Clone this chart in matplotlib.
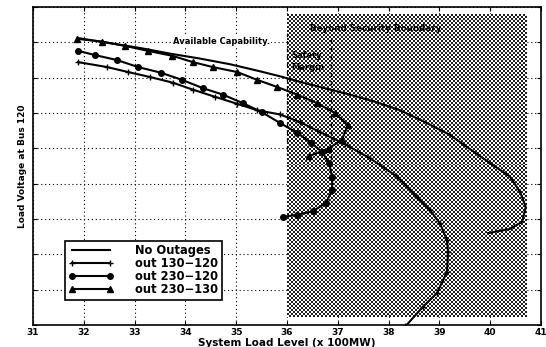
import numpy as np
import matplotlib.pyplot as plt

plt.rcParams['font.family'] = ['DejaVu Sans']
plt.rcParams['font.weight'] = 'bold'

# PV curves: system load (x 100 MW) vs. load voltage at bus 120
no_out_x = [31.89, 32.50, 33.11, 33.70, 34.29, 34.88, 35.47, 35.86, 36.26, 36.75,
            37.24, 37.73, 38.22, 38.72, 39.21, 39.54, 40.00, 40.39, 40.59, 40.70,
            40.63, 40.39, 39.96]
no_out_v = [0.956, 0.949, 0.942, 0.934, 0.927, 0.919, 0.909, 0.902, 0.894, 0.885,
            0.876, 0.866, 0.854, 0.837, 0.819, 0.802, 0.779, 0.760, 0.738, 0.717,
            0.696, 0.686, 0.680]

out_130_120_x = [31.89, 32.46, 32.87, 33.30, 33.75, 34.15, 34.58, 35.02, 35.41, 35.86,
                 36.26, 36.65, 37.14, 37.63, 38.17, 38.56, 38.81, 39.01, 39.15, 39.17,
                 39.15, 38.95, 38.68, 38.33]
out_130_120_v = [0.922, 0.915, 0.908, 0.901, 0.893, 0.883, 0.873, 0.863, 0.854, 0.848,
                 0.837, 0.823, 0.806, 0.786, 0.760, 0.731, 0.713, 0.694, 0.670, 0.653,
                 0.625, 0.595, 0.576, 0.548]

out_230_120_x = [31.89, 32.22, 32.65, 33.07, 33.52, 33.93, 34.35, 34.74, 35.13, 35.51,
                 35.86, 36.20, 36.47, 36.69, 36.83, 36.89, 36.89, 36.77, 36.51, 36.20,
                 35.92]
out_230_120_v = [0.938, 0.932, 0.925, 0.915, 0.907, 0.897, 0.885, 0.876, 0.864, 0.851,
                 0.836, 0.822, 0.808, 0.795, 0.779, 0.759, 0.741, 0.723, 0.711, 0.706,
                 0.703]

out_230_130_x = [31.87, 32.36, 32.81, 33.26, 33.74, 34.15, 34.54, 35.02, 35.41, 35.80,
                 36.20, 36.59, 36.94, 37.20, 37.08, 36.80, 36.43]
out_230_130_v = [0.955, 0.951, 0.945, 0.938, 0.931, 0.922, 0.915, 0.908, 0.897, 0.887,
                 0.876, 0.864, 0.850, 0.833, 0.812, 0.799, 0.789]

x_ticks = [31, 32, 33, 34, 35, 36, 37, 38, 39, 40, 41]
v_ticks = [0.55, 0.60, 0.65, 0.70, 0.75, 0.80, 0.85, 0.90, 0.95, 1.00]

# region beyond the security boundary and the capability markers
boundary_x = (36.0, 40.72)
boundary_v = (0.561, 0.989)
capability_x = 36.87

fig = plt.figure(figsize=(5.46, 3.47), dpi=100)
ax = fig.add_axes([0.0604, 0.0634, 0.9304, 0.9164])

ax.set_xlim(31, 41)
ax.set_ylim(0.55, 1.0)
ax.set_xticks(x_ticks)
ax.set_yticks(v_ticks)
ax.set_yticklabels([])
ax.tick_params(direction='in', top=True, right=True, length=3, width=0.8,
               labelsize=6.5, pad=2)
for lab in ax.get_xticklabels():
    lab.set_fontweight('bold')
ax.grid(True, linestyle=(0, (1, 2.5)), color='black', linewidth=0.8)
ax.set_axisbelow(True)
for sp in ax.spines.values():
    sp.set_linewidth(1.2)

# stippled shading, one cell per pixel pair
ny, nx = 152, 120
ii, jj = np.mgrid[0:ny, 0:nx]
checker = np.where((ii + jj) % 2 == 0, 0.12, 1.0)
ax.imshow(checker, cmap='gray', vmin=0, vmax=1, interpolation='nearest',
          extent=[boundary_x[0], boundary_x[1], boundary_v[0], boundary_v[1]],
          aspect='auto', zorder=1)

# safety margin brackets
ax.plot([boundary_x[0], boundary_x[0]], [0.963, 0.790], color='black',
        linestyle=(0, (3, 3)), linewidth=0.9, zorder=3)
ax.plot([capability_x, capability_x], [0.955, 0.776], color='black',
        linestyle=(0, (3, 3)), linewidth=1.0, zorder=3)

lw = 1.5
ax.plot(no_out_x, no_out_v, color='black', linewidth=lw, zorder=4,
        label='No Outages')
ax.plot(out_130_120_x, out_130_120_v, color='black', linewidth=lw, marker='+',
        markersize=5, markeredgewidth=1.0, zorder=4, label='out 130\u2212120')
ax.plot(out_230_120_x, out_230_120_v, color='black', linewidth=lw, marker='o',
        markersize=4, markerfacecolor='black', zorder=4, label='out 230\u2212120')
ax.plot(out_230_130_x, out_230_130_v, color='black', linewidth=lw, marker='^',
        markersize=5, markerfacecolor='black', zorder=4, label='out 230\u2212130')

ax.text(33.76, 0.951, 'Available Capability.', fontsize=6, fontweight='bold',
        va='center', ha='left', zorder=5,
        bbox=dict(facecolor='white', edgecolor='none', pad=0.5))
ax.text(36.45, 0.969, 'Beyond Security Boundary', fontsize=6.3, fontweight='bold',
        va='center', ha='left', zorder=5)
ax.text(36.08, 0.932, 'Safety', fontsize=6, fontweight='bold',
        va='center', ha='left', zorder=5)
ax.text(36.08, 0.915, 'Margin', fontsize=6, fontweight='bold',
        va='center', ha='left', zorder=5)

leg = ax.legend(loc='lower left', bbox_to_anchor=(0.063, 0.079), borderaxespad=0,
                numpoints=2, handlelength=3.9, fontsize=8.3, frameon=True,
                fancybox=False, edgecolor='black', framealpha=1,
                borderpad=0.3, labelspacing=0.0, handletextpad=1.9)
leg.get_frame().set_linewidth(1.2)
leg.set_zorder(6)

ax.set_xlabel('System Load Level (x 100MW)', fontsize=7.5, fontweight='bold')
ax.xaxis.set_label_coords(0.5, -0.041)
ax.xaxis.label.set_va('top')
ax.set_ylabel('Load Voltage at Bus 120', fontsize=6.5, fontweight='bold')
ax.yaxis.set_label_coords(-0.012, 0.5)

fig.savefig('out.png', dpi=100)
